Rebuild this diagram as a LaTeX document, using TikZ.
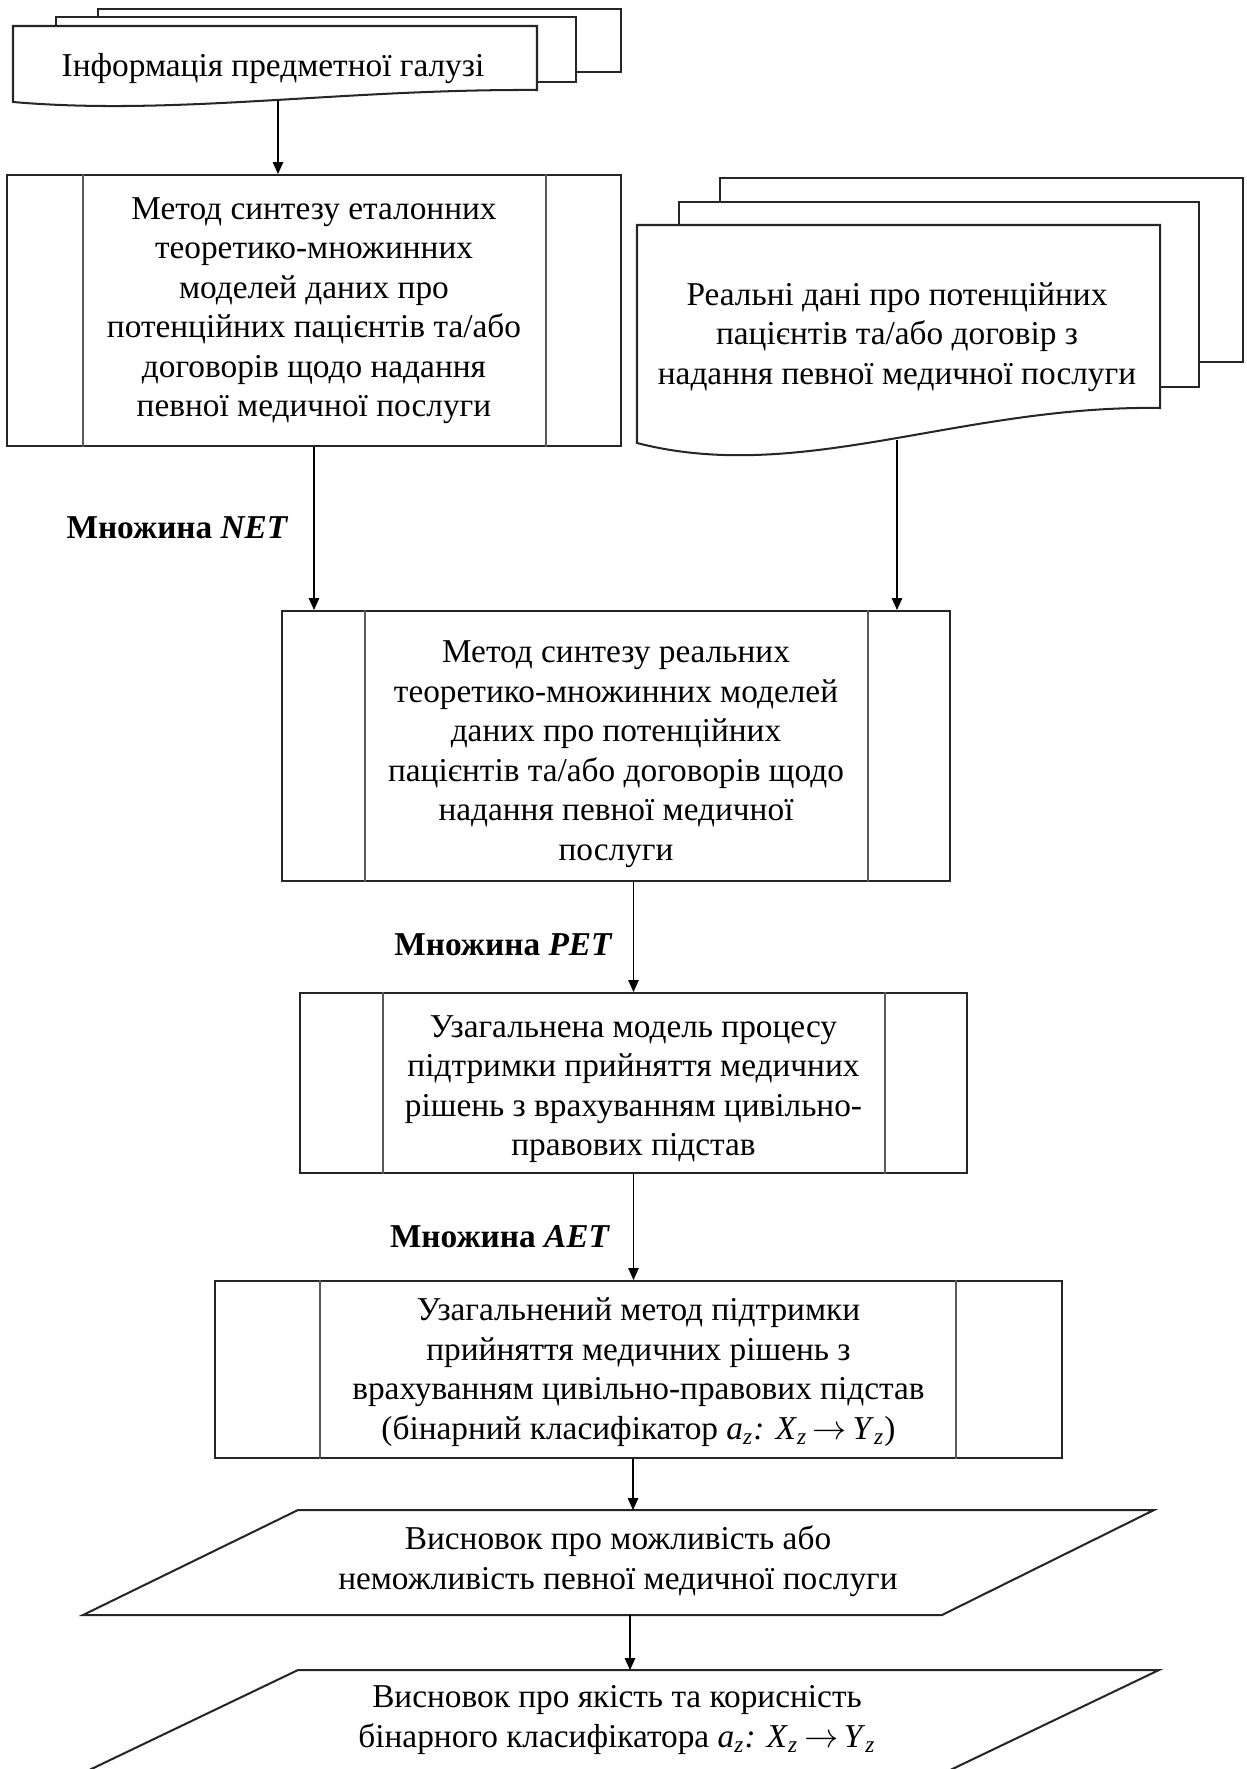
\documentclass[tikz,border=0pt]{standalone}
\usepackage{fontspec}
\setmainfont{Liberation Serif}
\usetikzlibrary{calc,arrows.meta}
\newcommand{\mysub}[1]{\textsubscript{\itshape #1}}
\newcommand{\clsmap}{\textit{a}\mysub{z}\textit{:} \textit{X}\mysub{z}\,$\to$\,\textit{Y}\mysub{z}}
\begin{document}
\begin{tikzpicture}[x=0.42pt,y=-0.42pt,
  outl/.style={draw=black!85, line width=0.85pt, fill=white},
  proc/.style={outl, rectangle, inner sep=0pt, align=center, font=\fontsize{14}{16.6}\selectfont},
  innerln/.style={draw=black!65, line width=0.7pt},
  arr/.style={line width=0.5pt, -{Triangle[length=5pt,width=4.4pt]}},
  txt/.style={align=center, inner sep=0pt, font=\fontsize{14}{16.6}\selectfont},
  lab/.style={inner sep=0pt, font=\fontsize{14}{16.6}\selectfont\bfseries}
]
\useasboundingbox (0,0) rectangle (1247,1769);

% ---------- document stack 1 ----------
\draw[outl] (98,9) rectangle (621,72);
\draw[outl] (56,17) rectangle (576,82);
\draw[outl] (13,102) -- (13,26) -- (537,26) -- (537,90) .. controls (338,89) and (175,116) .. (13,102) -- cycle;
\node[txt] (d1) at (273,69) {Інформація предметної галузі};
\coordinate (d1w) at (278,100);

% ---------- document stack 2 ----------
\draw[outl] (720,178) rectangle (1243,362);
\draw[outl] (679,202) rectangle (1199,387);
\draw[outl] (637,443) -- (637,225) -- (1160,225) -- (1160,408) .. controls (960,405) and (800,485) .. (637,443) -- cycle;
\node[txt] (d2) at (897,337) {Реальні дані про потенційних\\пацієнтів та/або договір з\\надання певної медичної послуги};
\coordinate (d2w) at (897,440);

% ---------- process boxes ----------
\node[proc, minimum width=614*0.42pt, minimum height=271*0.42pt] (b1) at (314,310.5)
  {Метод синтезу еталонних\\теоретико-множинних\\моделей даних про\\потенційних пацієнтів та/або\\договорів щодо надання\\певної медичної послуги};
\draw[innerln] ($(b1.north west)+(77,0)$) -- ($(b1.south west)+(77,0)$);
\draw[innerln] ($(b1.north east)+(-76,0)$) -- ($(b1.south east)+(-76,0)$);

\node[proc, minimum width=668*0.42pt, minimum height=270*0.42pt] (b2) at (616,746) {};
\node[txt] (t2) at (616,754)
  {Метод синтезу реальних\\теоретико-множинних моделей\\даних про потенційних\\пацієнтів та/або договорів щодо\\надання певної медичної\\послуги};
\draw[innerln] ($(b2.north west)+(84,0)$) -- ($(b2.south west)+(84,0)$);
\draw[innerln] ($(b2.north east)+(-83,0)$) -- ($(b2.south east)+(-83,0)$);

\node[proc, minimum width=667*0.42pt, minimum height=180*0.42pt] (b3) at (633.5,1083) {};
\node[txt] (t3) at (633.5,1089)
  {Узагальнена модель процесу\\підтримки прийняття медичних\\рішень з врахуванням цивільно-\\правових підстав};
\draw[innerln] ($(b3.north west)+(84,0)$) -- ($(b3.south west)+(84,0)$);
\draw[innerln] ($(b3.north east)+(-83,0)$) -- ($(b3.south east)+(-83,0)$);

\node[proc, minimum width=847*0.42pt, minimum height=177*0.42pt] (b4) at (638.5,1369.5) {};
\node[txt] (t4) at (638.5,1372)
  {Узагальнений метод підтримки\\прийняття медичних рішень з\\врахуванням цивільно-правових підстав\\(бінарний класифікатор \clsmap)};
\draw[innerln] ($(b4.north west)+(106,0)$) -- ($(b4.south west)+(106,0)$);
\draw[innerln] ($(b4.north east)+(-107,0)$) -- ($(b4.south east)+(-107,0)$);

% ---------- parallelograms ----------
\draw[outl] (298,1510) -- (1154,1510) -- (942,1615) -- (83,1615) -- cycle;
\node[txt] (p1) at (618,1561) {Висновок про можливість або\\неможливість певної медичної послуги};
\coordinate (p1t) at (633,1510);
\coordinate (p1b) at (630,1615);

\draw[outl] (298,1670) -- (1159,1670) -- (944,1773) -- (83,1773) -- cycle;
\node[txt] (p2) at (617,1720) {Висновок про якість та корисність\\бінарного класифікатора \clsmap};
\coordinate (p2t) at (630,1670);

% ---------- labels ----------
\node[lab] (lnet) at (177.5,528) {Множина \textit{NET}};
\node[lab] (lpet) at (503.5,945) {Множина \textit{PET}};
\node[lab] (laet) at (500,1237) {Множина \textit{AET}};

% ---------- connectors ----------
\draw[arr] (d1w) -- (d1w |- b1.north);
\draw[arr] (b1.south) -- (b1.south |- b2.north);
\draw[arr] (d2w) -- (d2w |- b2.north);
\draw[arr] (b2.south -| b3.north) -- (b3.north);
\draw[arr] (b3.south) -- (b3.south |- b4.north);
\draw[arr] (b4.south -| p1t) -- (p1t);
\draw[arr] (p1b) -- (p2t);
\end{tikzpicture}
\end{document}
